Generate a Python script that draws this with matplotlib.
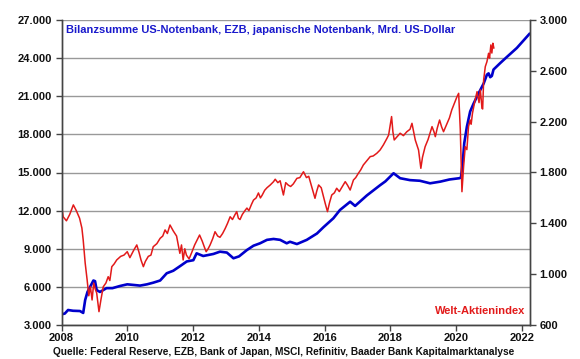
import matplotlib
matplotlib.use("Agg")
import matplotlib.pyplot as plt
from matplotlib.ticker import FuncFormatter

plt.rcParams['font.family'] = ['Liberation Sans', 'DejaVu Sans']
plt.rcParams['font.weight'] = 'bold'

# Bilanzsumme (Mrd. US-Dollar), left axis
bs_years = [2008.00, 2008.10, 2008.20, 2008.35, 2008.56, 2008.66, 2008.72, 2008.79, 2008.87, 2008.97,
            2009.02, 2009.07, 2009.17, 2009.37, 2009.55, 2009.78, 2010.00, 2010.20, 2010.39, 2010.60,
            2010.79, 2011.00, 2011.20, 2011.40, 2011.61, 2011.81, 2012.01, 2012.11, 2012.31, 2012.62,
            2012.82, 2013.03, 2013.23, 2013.40, 2013.64, 2013.84, 2014.04, 2014.25, 2014.45, 2014.65,
            2014.85, 2014.95, 2015.16, 2015.46, 2015.77, 2015.97, 2016.27, 2016.47, 2016.78, 2016.93,
            2017.29, 2017.69, 2017.85, 2018.10, 2018.30, 2018.60, 2018.90, 2019.21, 2019.52, 2019.80,
            2020.10, 2020.15, 2020.21, 2020.25, 2020.33, 2020.43, 2020.53, 2020.68, 2020.84, 2020.94,
            2020.99, 2021.04, 2021.09, 2021.14, 2021.34, 2021.55, 2021.85, 2022.23]
bs_values = [3840, 3900, 4180, 4120, 4100, 3950, 4970, 5600, 6000, 6500,
             6450, 5750, 5600, 5900, 5900, 6070, 6200, 6150, 6100, 6200,
             6330, 6500, 7070, 7270, 7640, 8000, 8100, 8640, 8430, 8590,
             8770, 8700, 8250, 8400, 8900, 9240, 9430, 9700, 9770, 9700,
             9430, 9550, 9370, 9700, 10200, 10700, 11400, 12050, 12700, 12370,
             13200, 14000, 14300, 14940, 14550, 14400, 14350, 14150, 14280, 14450,
             14550, 14600, 15980, 17300, 18600, 19800, 20400, 21200, 22000, 22700,
             22800, 22500, 22600, 23100, 23600, 24100, 24800, 25900]

# Welt-Aktienindex (MSCI), right axis
wi_years = [2008.00, 2008.05, 2008.15, 2008.25, 2008.36, 2008.45, 2008.55, 2008.62, 2008.66, 2008.72,
            2008.78, 2008.83, 2008.88, 2008.93, 2008.98, 2009.03, 2009.07, 2009.14, 2009.20, 2009.27,
            2009.35, 2009.42, 2009.47, 2009.53, 2009.60, 2009.68, 2009.80, 2009.90, 2010.00, 2010.08,
            2010.20, 2010.29, 2010.36, 2010.42, 2010.49, 2010.55, 2010.64, 2010.72, 2010.79, 2010.90,
            2011.00, 2011.08, 2011.15, 2011.22, 2011.30, 2011.40, 2011.50, 2011.55, 2011.60, 2011.65,
            2011.70, 2011.75, 2011.80, 2011.88, 2011.96, 2012.05, 2012.15, 2012.20, 2012.28, 2012.35,
            2012.40, 2012.46, 2012.52, 2012.60, 2012.67, 2012.75, 2012.82, 2012.90, 2012.98, 2013.05,
            2013.13, 2013.20, 2013.28, 2013.33, 2013.38, 2013.43, 2013.50, 2013.58, 2013.64, 2013.70,
            2013.78, 2013.84, 2013.92, 2013.99, 2014.05, 2014.10, 2014.18, 2014.25, 2014.35, 2014.45,
            2014.50, 2014.58, 2014.65, 2014.75, 2014.82, 2014.90, 2014.97, 2015.05, 2015.16, 2015.25,
            2015.36, 2015.45, 2015.52, 2015.61, 2015.71, 2015.76, 2015.82, 2015.90, 2016.02, 2016.09,
            2016.15, 2016.22, 2016.30, 2016.37, 2016.45, 2016.52, 2016.63, 2016.70, 2016.78, 2016.88,
            2016.95, 2017.03, 2017.10, 2017.18, 2017.28, 2017.39, 2017.48, 2017.59, 2017.69, 2017.79,
            2017.90, 2017.95, 2018.04, 2018.08, 2018.12, 2018.20, 2018.30, 2018.40, 2018.50, 2018.60,
            2018.66, 2018.72, 2018.76, 2018.82, 2018.86, 2018.93, 2018.98, 2019.06, 2019.15, 2019.27,
            2019.33, 2019.37, 2019.43, 2019.50, 2019.56, 2019.62, 2019.70, 2019.80, 2019.87, 2019.97,
            2020.03, 2020.08, 2020.13, 2020.18, 2020.23, 2020.28, 2020.33, 2020.38, 2020.43, 2020.46,
            2020.50, 2020.58, 2020.64, 2020.70, 2020.74, 2020.79, 2020.81, 2020.84, 2020.89, 2020.94,
            2020.99, 2021.02, 2021.06, 2021.09, 2021.12, 2021.15]
wi_values = [1545, 1452, 1420, 1470, 1545, 1500, 1440, 1363, 1269, 1088,
             954, 830, 900, 797, 930, 880, 852, 705, 800, 901,
             930, 980, 950, 1059, 1080, 1112, 1140, 1150, 1177, 1130,
             1190, 1230, 1170, 1110, 1059, 1100, 1140, 1150, 1216, 1240,
             1282, 1300, 1348, 1320, 1387, 1340, 1300, 1230, 1164, 1230,
             1112, 1200, 1150, 1120, 1170, 1230, 1282, 1308, 1260, 1210,
             1177, 1200, 1230, 1280, 1334, 1300, 1290, 1320, 1360, 1400,
             1452, 1430, 1470, 1492, 1440, 1430, 1470, 1500, 1520, 1500,
             1550, 1583, 1600, 1639, 1600, 1620, 1660, 1680, 1702, 1728,
             1747, 1720, 1735, 1623, 1720, 1700, 1690, 1710, 1754, 1760,
             1806, 1760, 1770, 1689, 1597, 1650, 1702, 1680, 1558, 1492,
             1560, 1623, 1640, 1676, 1650, 1680, 1728, 1700, 1662, 1741,
             1760, 1794, 1820, 1859, 1890, 1925, 1930, 1951, 1977, 2017,
             2069, 2095, 2240, 2120, 2056, 2080, 2109, 2090, 2120, 2140,
             2187, 2110, 2056, 2010, 1977, 1833, 1920, 2003, 2060, 2161,
             2120, 2082, 2150, 2213, 2160, 2121, 2170, 2230, 2292, 2357,
             2397, 2423, 2135, 1649, 1846, 2003, 1980, 2161, 2213, 2180,
             2266, 2371, 2436, 2350, 2450, 2305, 2300, 2528, 2633, 2672,
             2738, 2700, 2804, 2740, 2817, 2780]

left_ticks = [3000, 6000, 9000, 12000, 15000, 18000, 21000, 24000, 27000]
right_ticks = [600, 1000, 1400, 1800, 2200, 2600, 3000]
year_ticks = [2008, 2010, 2012, 2014, 2016, 2018, 2020, 2022]

title = "Bilanzsumme US-Notenbank, EZB, japanische Notenbank, Mrd. US-Dollar"
index_label = "Welt-Aktienindex"
source = "Quelle: Federal Reserve, EZB, Bank of Japan, MSCI, Refinitiv, Baader Bank Kapitalmarktanalyse"

def de_fmt(v, pos=None):
    return f"{int(round(v)):,}".replace(",", ".")

fig = plt.figure(figsize=(5.8, 3.59), dpi=100)
ax = fig.add_axes([61.5 / 580, 1 - 325 / 359, (530 - 61.5) / 580, (325 - 20) / 359])
ax2 = ax.twinx()

ax.set_xlim(2008, 2022.25)
ax.set_ylim(3000, 27000)
ax2.set_ylim(600, 3000)

ax.set_yticks(left_ticks)
ax2.set_yticks(right_ticks)
ax.set_xticks(year_ticks)
ax.yaxis.set_major_formatter(FuncFormatter(de_fmt))
ax2.yaxis.set_major_formatter(FuncFormatter(de_fmt))

ax.grid(axis='y', color='#999999', linewidth=1.0)
ax.set_axisbelow(True)

ax.plot(bs_years, bs_values, color='#0000cc', linewidth=1.9, solid_joinstyle='round')
ax2.plot(wi_years, wi_values, color='#e21a1a', linewidth=1.1, solid_joinstyle='round')

for a in (ax, ax2):
    a.spines['top'].set_visible(False)
    for s in ('left', 'right', 'bottom'):
        a.spines[s].set_color('#444444')
        a.spines[s].set_linewidth(1.0)
    a.tick_params(labelsize=8, length=4, width=1, color='#444444', pad=3, labelcolor='#111111')
ax.tick_params(axis='x', pad=2)

for lab in ax.get_xticklabels() + ax.get_yticklabels() + ax2.get_yticklabels():
    lab.set_fontweight('bold')

fig.text(66 / 580, 1 - 30 / 359, title, color='#1a1acc', fontsize=8, fontweight='bold',
         ha='left', va='center')
fig.text(525 / 580, 1 - 311.5 / 359, index_label, color='#e21a1a', fontsize=8, fontweight='bold',
         ha='right', va='center')
fig.text(53 / 580, 1 - 352 / 359, source, color='#111111', fontsize=7.3, fontweight='bold',
         ha='left', va='center')

fig.savefig('out.png', dpi=100)
